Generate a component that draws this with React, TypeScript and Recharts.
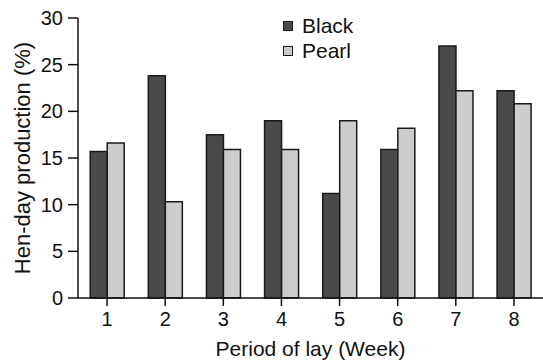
import { Bar, BarChart, XAxis, YAxis } from "recharts";

const weeks = ["1", "2", "3", "4", "5", "6", "7", "8"];
const black = [15.7, 23.8, 17.5, 19.0, 11.2, 15.9, 27.0, 22.2];
const pearl = [16.6, 10.3, 15.9, 15.9, 19.0, 18.2, 22.2, 20.8];
const yTicks = [0, 5, 10, 15, 20, 25, 30];

const data = weeks.map((week, i) => ({ week, black: black[i], pearl: pearl[i] }));

const font = "'Liberation Sans', Arial, sans-serif";

function LegendBox() {
  const items = [
    { label: "Black", color: "#4a4a4a" },
    { label: "Pearl", color: "#cccccc" },
  ];
  return (
    <div
      style={{
        position: "absolute",
        left: 283,
        top: 13,
        fontFamily: font,
        fontSize: 21,
        color: "#111",
      }}
    >
      {items.map((it) => (
        <div key={it.label} style={{ display: "flex", alignItems: "center", height: 25.5 }}>
          <span
            style={{
              display: "inline-block",
              width: 8,
              height: 8,
              background: it.color,
              border: "1.5px solid #1a1a1a",
              marginRight: 9,
            }}
          />
          {it.label}
        </div>
      ))}
    </div>
  );
}

export default function App() {
  return (
    <div style={{ position: "absolute", left: 0, top: 0, background: "#fff" }}>
      <BarChart
        width={543}
        height={362}
        data={data}
        margin={{ top: 18, right: 0, bottom: 0, left: 0 }}
        barCategoryGap="21%"
        barGap={0}
      >
        <XAxis
          dataKey="week"
          height={64}
          stroke="#111"
          strokeWidth={1.5}
          tickSize={8}
          tickMargin={6}
          tick={{ fill: "#111", fontSize: 20, fontFamily: font }}
          label={{
            value: "Period of lay (Week)",
            position: "insideBottom",
            offset: 6,
            style: { fill: "#111", fontSize: 21, fontFamily: font },
          }}
        />
        <YAxis
          width={78}
          domain={[0, 30]}
          ticks={yTicks}
          interval={0}
          stroke="#111"
          strokeWidth={1.5}
          tickSize={10}
          tickMargin={5}
          tick={{ fill: "#111", fontSize: 20, fontFamily: font }}
          label={{
            value: "Hen-day production (%)",
            angle: -90,
            position: "insideLeft",
            offset: 22,
            style: { textAnchor: "middle", fill: "#111", fontSize: 22, fontFamily: font },
          }}
        />
        <Bar dataKey="black" name="Black" fill="#4a4a4a" stroke="#1a1a1a" strokeWidth={1.5} isAnimationActive={false} />
        <Bar dataKey="pearl" name="Pearl" fill="#cccccc" stroke="#1a1a1a" strokeWidth={1.5} isAnimationActive={false} />
      </BarChart>
      <LegendBox />
    </div>
  );
}
